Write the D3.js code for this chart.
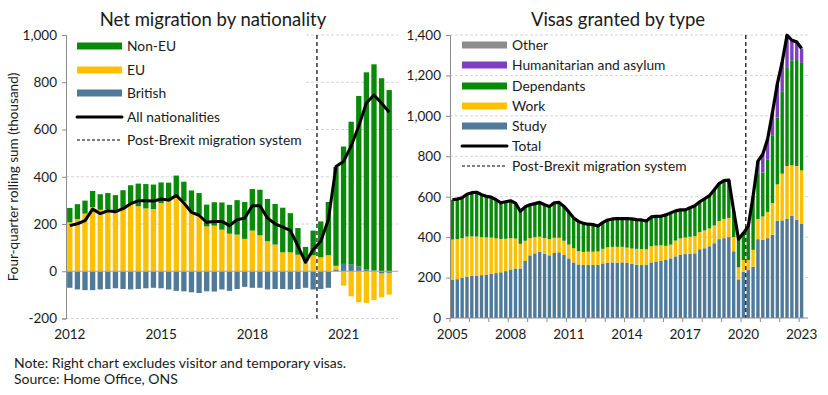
<!DOCTYPE html>
<html>
<head>
<meta charset="utf-8">
<script src="https://cdn.jsdelivr.net/npm/d3@7"></script>
<style>
  body { margin: 0; background: #fff; }
  text { font-family: Lato, "Open Sans", sans-serif; fill: #1a1a1a; }
</style>
</head>
<body>
<svg id="chart" width="828" height="395"></svg>
<script>
// left chart: net migration by nationality, quarterly from 2012
const netYears = ['2012', '2015', '2018', '2021'];
const british = [-70,-77,-80,-80,-77,-75,-72,-75,-77,-75,-72,-70,-72,-77,-83,-85,-89,-92,-85,-86,-77,-83,-75,-66,-70,-70,-77,-75,-75,-77,-75,-70,-77,-75,-70,8,31,28,20,7,3,-10,-7];
const eu = [207,221,244,272,260,263,249,266,284,275,266,263,289,296,314,296,253,239,190,193,176,159,155,137,172,152,127,113,80,80,70,42,68,59,68,15,-61,-106,-131,-134,-122,-100,-92];
const nonEu = [61,63,55,68,66,68,73,77,80,96,103,104,87,79,91,83,89,92,92,99,115,122,146,156,176,193,179,172,189,166,113,61,104,152,225,418,497,605,722,835,873,817,767];
const allNat = [193,201,214,263,244,256,252,265,286,298,298,297,306,301,321,289,249,237,207,211,211,193,218,225,277,277,225,201,187,173,106,38,92,127,218,443,465,530,615,712,746,711,673];

// right chart: visas granted by type, quarterly from 2005
const visaYears = ['2005','2008','2011','2014','2017','2020','2023'];
const study = [188,192,198,205,208,210,212,214,218,222,226,232,240,245,245,282,310,320,328,318,310,322,325,312,295,275,265,262,262,262,263,270,274,275,274,275,272,268,264,262,262,275,280,282,287,295,305,312,316,318,320,340,345,355,370,390,395,400,330,191,229,237,254,390,387,395,412,481,483,490,506,486,465];
const work = [200,198,197,198,196,193,188,185,180,172,165,160,155,148,122,100,85,80,74,78,80,75,72,70,68,70,66,65,66,66,66,72,76,77,78,77,76,76,78,79,78,80,78,78,70,68,78,82,82,84,85,85,88,88,88,90,95,95,70,60,58,50,83,100,115,130,157,180,231,262,249,266,265];
const dependants = [197,198,200,209,216,219,210,203,200,191,179,183,185,175,161,168,165,166,170,164,162,173,175,170,162,150,147,141,136,134,126,130,135,138,140,140,144,146,145,144,140,145,145,143,153,157,147,141,137,143,150,150,157,162,177,185,190,187,130,139,130,161,255,226,218,260,332,331,408,485,520,524,532];
const humanitarian = [0,0,0,0,0,0,0,0,0,0,0,0,0,0,0,0,0,0,0,0,0,0,0,0,0,0,0,0,0,0,0,0,0,0,0,0,0,0,0,0,0,0,0,0,0,0,0,0,0,0,0,0,0,0,0,0,0,0,0,0,3,5,10,60,90,100,117,166,144,162,99,90,71];
const other = [0,0,0,0,0,0,0,0,0,0,0,0,0,0,0,0,0,0,0,0,0,0,0,0,0,0,0,0,0,0,0,0,0,0,0,0,0,0,0,0,0,0,0,0,0,0,0,0,0,0,0,0,0,0,0,0,0,0,0,0,0,0,0,0,0,0,0,0,0,0,0,0,0];
const visaTotal = [585,588,595,612,620,622,610,602,598,585,570,575,580,568,528,550,560,566,572,560,552,570,572,552,525,495,478,468,464,462,455,472,485,490,492,492,492,490,487,485,480,500,503,503,510,520,530,535,535,545,555,575,590,605,635,665,680,682,530,390,420,453,602,776,810,885,1018,1158,1266,1399,1374,1366,1333];

const colors = {
    nonEu: '#0a8a0a',
    eu: '#ffc000',
    british: '#4f7a9a',
    humanitarian: '#7f3fbf',
    other: '#8c8c8c',
};

const svg = d3.select('#chart');
const fmt = d3.formatLocale({decimal: '.', thousands: ',', grouping: [3], currency: ['', ''], minus: '-'}).format(',');

function drawGrid(g, y, ticks, x0, x1) {
    g.selectAll('line.grid').data(ticks).enter()
        .append('line')
        .attr('x1', x0).attr('x2', x1)
        .attr('y1', d => y(d)).attr('y2', d => y(d))
        .attr('stroke', '#d4d4d4')
        .attr('stroke-dasharray', '3,2');
}

function drawYAxis(g, y, ticks, x0) {
    const ax = g.append('g')
        .attr('transform', 'translate(' + x0 + ',0)')
        .call(d3.axisLeft(y).tickValues(ticks).tickFormat(fmt).tickSize(4).tickPadding(5));
    ax.select('.domain').attr('stroke', '#8c8c8c');
    ax.selectAll('.tick line').attr('stroke', '#8c8c8c');
    ax.selectAll('text').style('font-size', '13.5px').attr('fill', '#1a1a1a');
}

function legendRow(g, x, y, label, kind, color) {
    if (kind === 'bar') {
        g.append('rect').attr('x', x).attr('y', y - 3.5).attr('width', 45).attr('height', 7).attr('fill', color);
    } else if (kind === 'line') {
        g.append('line').attr('x1', x).attr('x2', x + 45).attr('y1', y).attr('y2', y)
            .attr('stroke', '#000').attr('stroke-width', 3).attr('stroke-linecap', 'round');
    } else {
        g.append('line').attr('x1', x).attr('x2', x + 45).attr('y1', y).attr('y2', y)
            .attr('stroke', '#000').attr('stroke-width', 1.2).attr('stroke-dasharray', '3,2');
    }
    g.append('text').attr('x', x + 50).attr('y', y).attr('dy', '0.35em')
        .style('font-size', '13.8px').text(label);
}

// ---------- left chart ----------
(function () {
    const g = svg.append('g');
    const top = 35, bottom = 318.5, left = 66, right = 393;
    const n = british.length;
    const idx = d3.range(n);
    const x = d3.scaleBand().domain(idx).range([left, right]).paddingInner(0.3).paddingOuter(0.15);
    const y = d3.scaleLinear().domain([-200, 1000]).range([bottom, top]);
    const ticks = d3.range(-200, 1001, 200);

    drawGrid(g, y, ticks.filter(d => d !== 0), left, 398);

    const rows = idx.map(i => ({i: i, british: british[i], eu: eu[i], nonEu: nonEu[i]}));
    const series = d3.stack().keys(['british', 'eu', 'nonEu']).offset(d3.stackOffsetDiverging)(rows);

    g.selectAll('g.series').data(series).enter()
        .append('g').attr('fill', s => colors[s.key])
        .selectAll('rect').data(s => s).enter()
        .append('rect')
        .attr('x', d => x(d.data.i))
        .attr('width', x.bandwidth())
        .attr('y', d => y(Math.max(d[0], d[1])))
        .attr('height', d => Math.abs(y(d[0]) - y(d[1])));

    // zero line
    g.append('line').attr('x1', left).attr('x2', 398).attr('y1', y(0)).attr('y2', y(0))
        .attr('stroke', '#a6a6a6').attr('stroke-width', 1);

    // legend background hides grid
    g.append('rect').attr('x', left + 1).attr('y', 30).attr('width', 238).attr('height', 122).attr('fill', '#fff');

    // post-Brexit marker
    const bx = (x(32) + x.bandwidth() + x(33)) / 2;
    g.append('line').attr('x1', bx).attr('x2', bx).attr('y1', top).attr('y2', bottom)
        .attr('stroke', '#000').attr('stroke-width', 1.2).attr('stroke-dasharray', '4,3');

    const line = d3.line().x((d, i) => x(i) + x.bandwidth() / 2).y(d => y(d));
    g.append('path').datum(allNat).attr('d', line)
        .attr('fill', 'none').attr('stroke', '#000').attr('stroke-width', 3).attr('stroke-linejoin', 'round');

    drawYAxis(g, y, ticks, left);

    g.selectAll('text.xlab').data(netYears).enter()
        .append('text')
        .attr('x', (d, i) => x(i * 12) + x.bandwidth() / 2)
        .attr('y', 339).attr('text-anchor', 'middle')
        .style('font-size', '13.5px').text(d => d);

    g.append('text').attr('x', 213).attr('y', 26).attr('text-anchor', 'middle')
        .style('font-size', '18.5px').text('Net migration by nationality');

    g.append('text').attr('transform', 'translate(18,177) rotate(-90)').attr('text-anchor', 'middle')
        .style('font-size', '13.5px').text('Four-quarter rolling sum (thousand)');

    const lg = g.append('g');
    legendRow(lg, 77, 46, 'Non-EU', 'bar', colors.nonEu);
    legendRow(lg, 77, 70, 'EU', 'bar', colors.eu);
    legendRow(lg, 77, 93, 'British', 'bar', colors.british);
    legendRow(lg, 77, 117, 'All nationalities', 'line');
    legendRow(lg, 77, 140, 'Post-Brexit migration system', 'dash');
})();

// ---------- right chart ----------
(function () {
    const g = svg.append('g');
    const top = 35, bottom = 318, left = 450, right = 804;
    const n = study.length;
    const idx = d3.range(n);
    const x = d3.scaleBand().domain(idx).range([left, right]).paddingInner(0.3).paddingOuter(0.15);
    const y = d3.scaleLinear().domain([0, 1400]).range([bottom, top]);
    const ticks = d3.range(0, 1401, 200);

    drawGrid(g, y, ticks.filter(d => d !== 0), left, 808);

    const keys = ['study', 'work', 'dependants', 'humanitarian', 'other'];
    const fills = {study: colors.british, work: colors.eu, dependants: colors.nonEu, humanitarian: colors.humanitarian, other: colors.other};
    const rows = idx.map(i => ({i: i, study: study[i], work: work[i], dependants: dependants[i], humanitarian: humanitarian[i], other: other[i]}));
    const series = d3.stack().keys(keys)(rows);

    g.selectAll('g.series').data(series).enter()
        .append('g').attr('fill', s => fills[s.key])
        .selectAll('rect').data(s => s).enter()
        .append('rect')
        .attr('x', d => x(d.data.i))
        .attr('width', x.bandwidth())
        .attr('y', d => y(d[1]))
        .attr('height', d => y(d[0]) - y(d[1]));

    const bx = (x(60) + x.bandwidth() + x(61)) / 2;
    g.append('line').attr('x1', bx).attr('x2', bx).attr('y1', top).attr('y2', bottom)
        .attr('stroke', '#000').attr('stroke-width', 1.2).attr('stroke-dasharray', '4,3');

    const line = d3.line().x((d, i) => x(i) + x.bandwidth() / 2).y(d => y(d));
    g.append('path').datum(visaTotal).attr('d', line)
        .attr('fill', 'none').attr('stroke', '#000').attr('stroke-width', 3.2).attr('stroke-linejoin', 'round');

    // bottom axis with year ticks
    g.append('line').attr('x1', left).attr('x2', 808).attr('y1', bottom).attr('y2', bottom).attr('stroke', '#8c8c8c');
    g.selectAll('line.yt').data(idx.filter(i => i % 4 === 0)).enter()
        .append('line')
        .attr('x1', i => x(i) - 0.7).attr('x2', i => x(i) - 0.7)
        .attr('y1', bottom).attr('y2', bottom + 4).attr('stroke', '#8c8c8c');

    drawYAxis(g, y, ticks, left);

    g.selectAll('text.xlab').data(visaYears).enter()
        .append('text')
        .attr('x', (d, i) => x(i * 12) + x.bandwidth() / 2)
        .attr('y', 339).attr('text-anchor', 'middle')
        .style('font-size', '13.5px').text(d => d);

    g.append('text').attr('x', 618).attr('y', 26).attr('text-anchor', 'middle')
        .style('font-size', '18.5px').text('Visas granted by type');

    const lg = g.append('g');
    legendRow(lg, 462, 45, 'Other', 'bar', colors.other);
    legendRow(lg, 462, 65, 'Humanitarian and asylum', 'bar', colors.humanitarian);
    legendRow(lg, 462, 86, 'Dependants', 'bar', colors.nonEu);
    legendRow(lg, 462, 106, 'Work', 'bar', colors.eu);
    legendRow(lg, 462, 126, 'Study', 'bar', colors.british);
    legendRow(lg, 462, 146, 'Total', 'line');
    legendRow(lg, 462, 166, 'Post-Brexit migration system', 'dash');
})();

svg.append('text').attr('x', 14).attr('y', 368).style('font-size', '14px')
    .text('Note: Right chart excludes visitor and temporary visas.');
svg.append('text').attr('x', 14).attr('y', 384).style('font-size', '14px')
    .text('Source: Home Office, ONS');
</script>
</body>
</html>
